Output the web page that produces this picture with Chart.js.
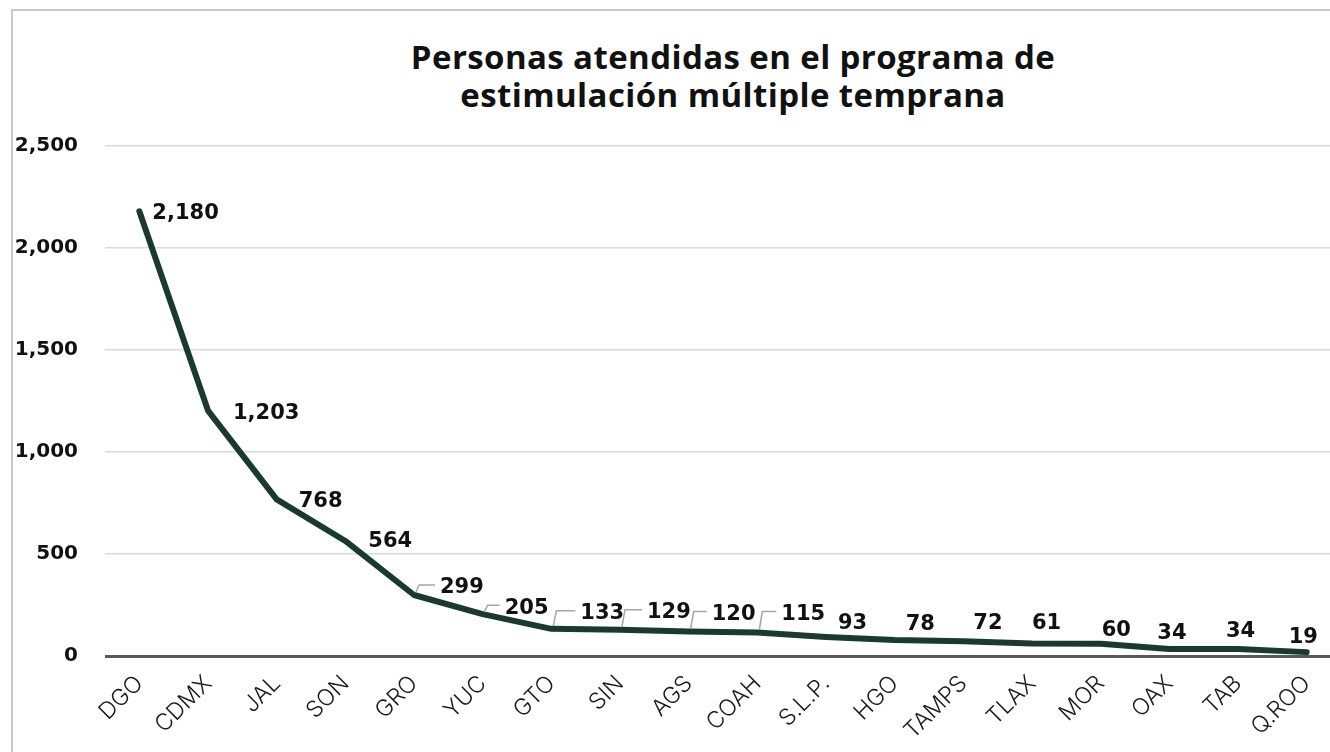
<!DOCTYPE html>
<html>
<head>
<meta charset="utf-8">
<script src="https://cdn.jsdelivr.net/npm/chart.js@4.4.1/dist/chart.umd.min.js"></script>
<style>
    html, body { margin: 0; padding: 0; overflow: hidden; background: #fff; }
    #frame {
        position: absolute; left: 11px; top: 9px; width: 1400px; height: 800px;
        border: 2px solid #c8c8c8; box-sizing: border-box;
    }
    #title {
        position: absolute; left: 0; width: 1466px; top: 38px; margin: 0;
        text-align: center; font: 700 33px "Open Sans", sans-serif; line-height: 38px;
        letter-spacing: 0.4px; color: #111;
    }
    #wrap { position: absolute; left: 0; top: 0; width: 1345px; height: 752px; }
</style>
</head>
<body>
<div id="frame"></div>
<h1 id="title">Personas atendidas en el programa de<br>estimulación múltiple temprana</h1>
<div id="wrap"><canvas id="chart"></canvas></div>
<script>
const states = ['DGO', 'CDMX', 'JAL', 'SON', 'GRO', 'YUC', 'GTO', 'SIN', 'AGS', 'COAH',
    'S.L.P.', 'HGO', 'TAMPS', 'TLAX', 'MOR', 'OAX', 'TAB', 'Q.ROO'];
const attended = [2180, 1203, 768, 564, 299, 205, 133, 129, 120, 115, 93, 78, 72, 61, 60, 34, 34, 19];
const yTicks = [0, 500, 1000, 1500, 2000, 2500];

// label nudges relative to each point: [dx to left edge, dy of text middle]
const labelNudge = [[13, 1], [25, 2], [22, 1], [23, 0], [26, -8], [22, -7], [29, -16], [27, -18],
    [23, -18], [24, -19], [12, -14], [11, -17], [10, -19], [0, -21], [1, -14], [-12, -17], [-12, -19], [-18, -16]];
const leaderFrom = 4, leaderTo = 9;

const pointLabels = {
    id: 'pointLabels',
    afterDatasetsDraw(chart) {
        const ctx = chart.ctx;
        const meta = chart.getDatasetMeta(0);
        ctx.save();
        ctx.font = 'bold 21px "DejaVu Sans", sans-serif';
        ctx.textBaseline = 'middle';
        ctx.textAlign = 'left';
        meta.data.forEach((pt, i) => {
            const [dx, dy] = labelNudge[i];
            const lx = pt.x + dx, ly = pt.y + dy;
            if (i >= leaderFrom && i <= leaderTo) {
                ctx.strokeStyle = '#a6a6a6';
                ctx.lineWidth = 1.5;
                ctx.beginPath();
                ctx.moveTo(pt.x + 2, pt.y - 3);
                ctx.lineTo(pt.x + 5, ly - 2);
                ctx.lineTo(lx - 5, ly - 2);
                ctx.stroke();
            }
            ctx.fillStyle = '#111';
            ctx.fillText(attended[i].toLocaleString('en-US'), lx, ly + 1);
        });
        ctx.restore();
    }
};

new Chart(document.getElementById('chart'), {
    type: 'line',
    data: {
        labels: states,
        datasets: [{
            data: attended,
            borderColor: '#1b3a2f',
            borderWidth: 6,
            borderCapStyle: 'round',
            borderJoinStyle: 'round',
            tension: 0,
            pointRadius: 0,
            fill: false
        }]
    },
    options: {
        responsive: true,
        maintainAspectRatio: false,
        animation: false,
        layout: { padding: { top: 146, right: 4, left: 0, bottom: 0 } },
        plugins: {
            legend: { display: false },
            tooltip: { enabled: false },
            title: { display: false }
        },
        scales: {
            x: {
                offset: true,
                grid: { display: false },
                border: { display: false },
                afterFit(scale) { scale.height = 96; },
                ticks: {
                    color: '#1a1a1a',
                    font: { family: 'Inter, sans-serif', size: 23, weight: 300 },
                    maxRotation: 45,
                    minRotation: 45,
                    padding: 6,
                    autoSkip: false
                }
            },
            y: {
                min: 0,
                max: 2500,
                afterBuildTicks(scale) { scale.ticks = yTicks.map(v => ({ value: v })); },
                afterFit(scale) { scale.width = 105; },
                border: { display: false },
                grid: {
                    drawTicks: false,
                    color: c => c.tick.value === 0 ? '#595959' : '#d9d9d9',
                    lineWidth: c => c.tick.value === 0 ? 3 : 1.5
                },
                ticks: {
                    padding: 27,
                    color: '#111',
                    font: { family: '"DejaVu Sans", sans-serif', size: 20, weight: 'bold' },
                    callback: v => v.toLocaleString('en-US')
                }
            }
        }
    },
    plugins: [pointLabels]
});
</script>
</body>
</html>
